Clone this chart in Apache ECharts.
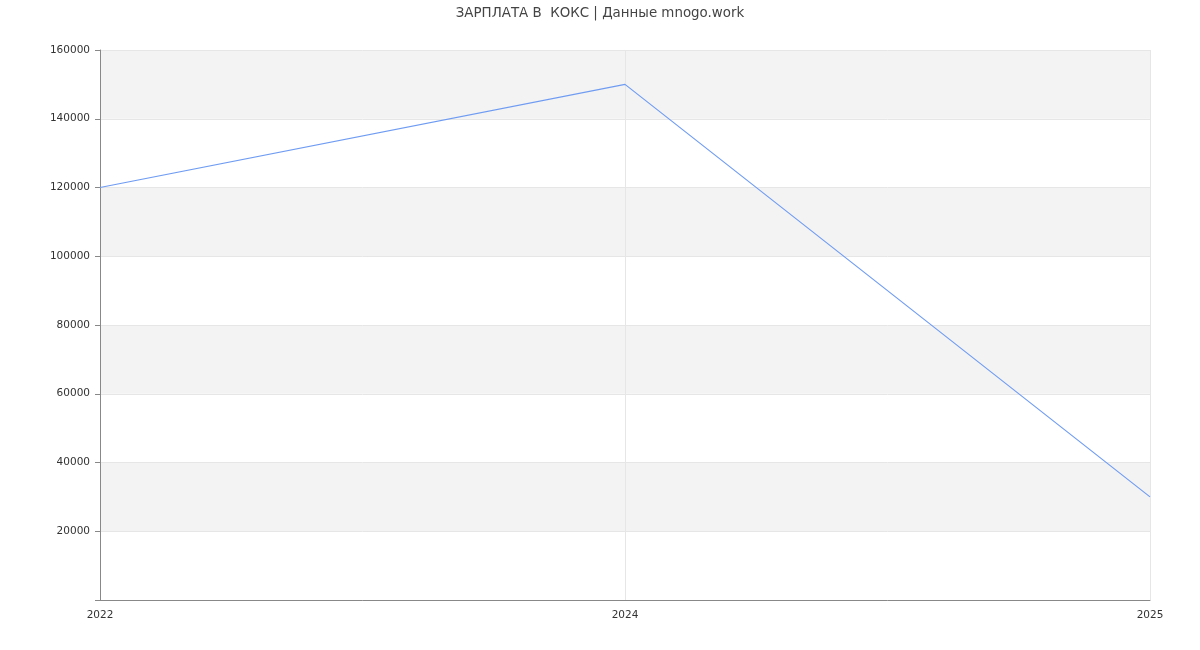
<!DOCTYPE html>
<html>
<head>
<meta charset="utf-8">
<script src="https://cdn.jsdelivr.net/npm/echarts@6/dist/echarts.min.js"></script>
<style>html,body{margin:0;padding:0;background:#fff}#c{width:1200px;height:650px}</style>
</head>
<body>
<div id="c"></div>
<script>
var titleText = 'ЗАРПЛАТА В  КОКС | Данные mnogo.work';
var years = ['2022', '2024', '2025'];
var salary = [120000, 150000, 30000];

var chart = echarts.init(document.getElementById('c'), null, {renderer: 'canvas'});
chart.setOption({
  animation: false,
  backgroundColor: '#fff',
  textStyle: {fontFamily: 'DejaVu Sans'},
  title: {
    text: titleText,
    left: 'center',
    top: 2,
    textStyle: {fontSize: 13.4, fontWeight: 'normal', color: '#444', fontFamily: 'DejaVu Sans'}
  },
  grid: {left: 100, right: 50, top: 50, bottom: 50, containLabel: false},
  xAxis: {
    type: 'category',
    data: years,
    boundaryGap: false,
    axisLine: {lineStyle: {color: '#888'}},
    axisTick: {show: false},
    axisLabel: {color: '#333', fontSize: 10.5, margin: 10},
    splitLine: {show: true, lineStyle: {color: '#e6e6e6'}}
  },
  yAxis: {
    type: 'value',
    min: 0,
    max: 160000,
    interval: 20000,
    axisLine: {show: true, lineStyle: {color: '#888'}},
    axisTick: {show: true, length: 5, lineStyle: {color: '#888'}},
    axisLabel: {color: '#333', fontSize: 10.5, margin: 10,
      formatter: function (v) { return v === 0 ? '' : String(v); }},
    splitLine: {show: true, lineStyle: {color: '#e6e6e6'}},
    splitArea: {show: true, areaStyle: {color: ['#ffffff', '#f3f3f3']}}
  },
  series: [{
    type: 'line',
    data: salary,
    symbol: 'none',
    lineStyle: {color: '#6f9cf2', width: 1.2},
    itemStyle: {color: '#6f9cf2'}
  }]
});
</script>
</body>
</html>
